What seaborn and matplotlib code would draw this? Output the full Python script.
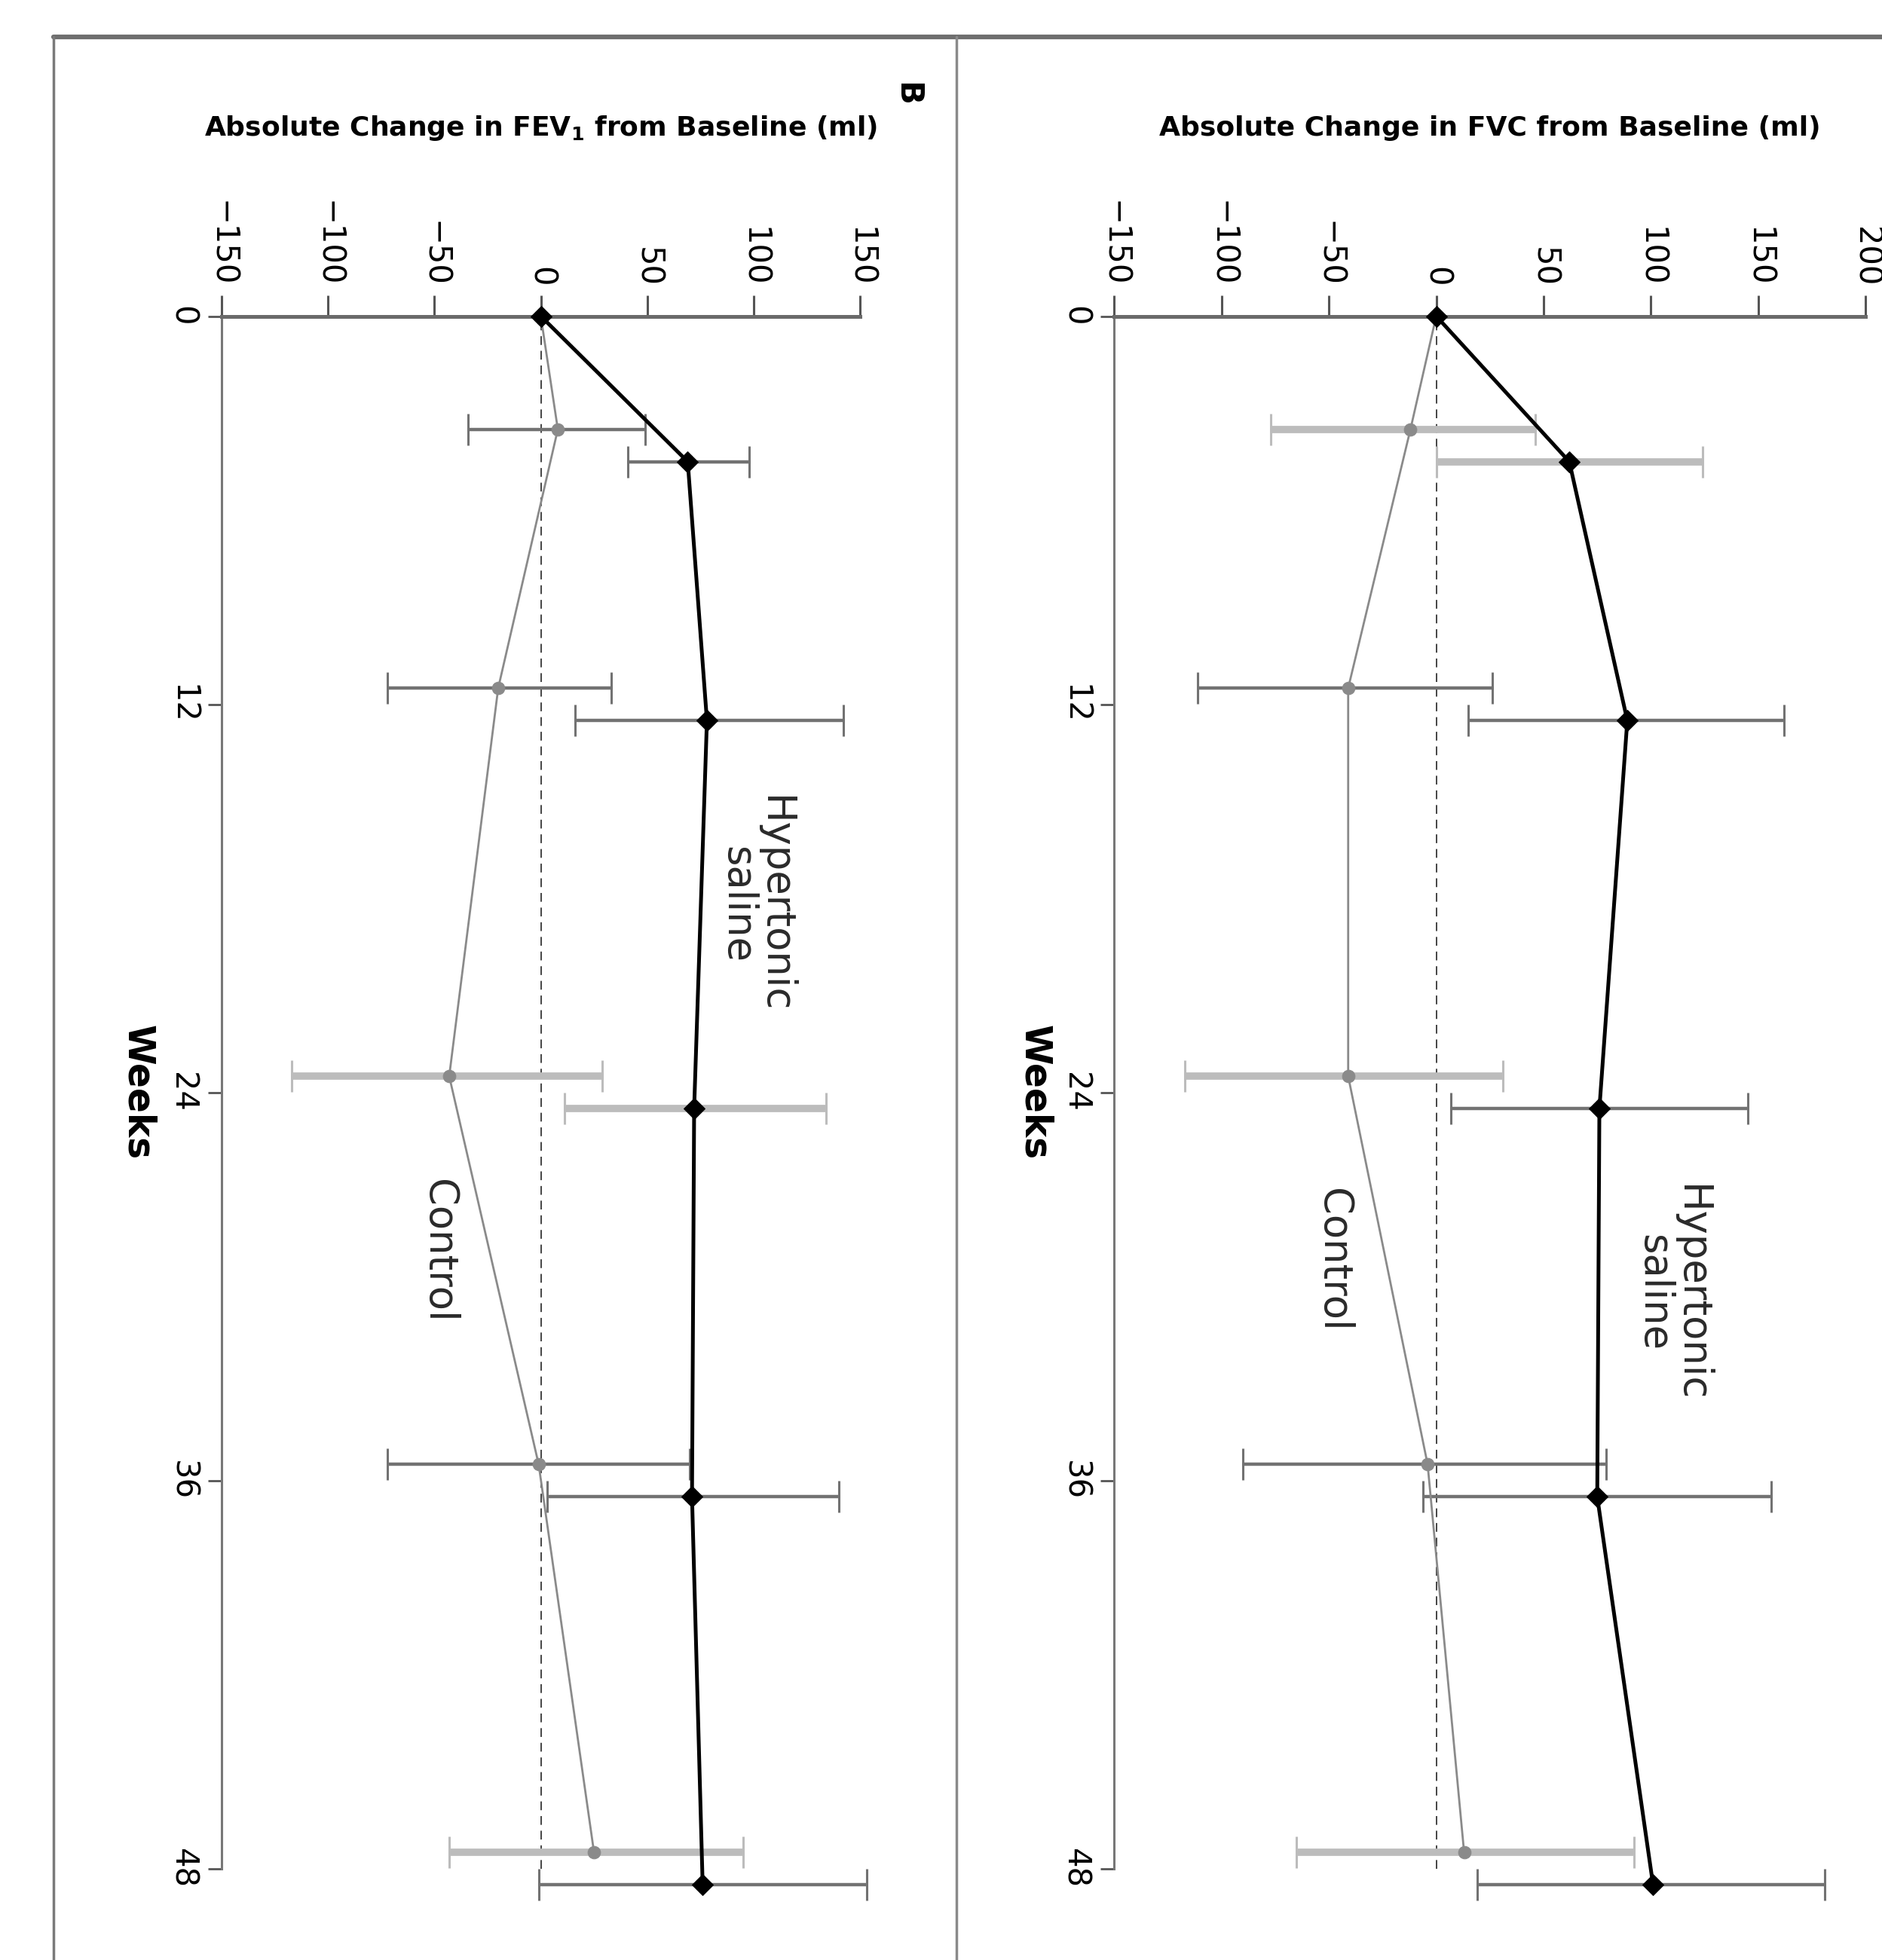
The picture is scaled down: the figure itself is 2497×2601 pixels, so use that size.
import matplotlib
matplotlib.use('Agg')
import matplotlib.pyplot as plt
import seaborn as sns
from matplotlib import font_manager
from matplotlib.lines import Line2D

# ---------- data (rotated 90 deg clockwise) ----------
weeks = [0, 4, 12, 24, 36, 48]

# panel B: FEV1
fev1_hs = [0, 69, 78, 72, 71, 76]
fev1_hs_lo = [41, 16, 11, 3, -1]
fev1_hs_hi = [98, 142, 134, 140, 153]
fev1_ctl = [0, 8, -20, -43, -1, 25]
fev1_ctl_lo = [-34, -72, -117, -72, -43]
fev1_ctl_hi = [49, 33, 29, 70, 95]

# panel A: FVC
fvc_hs = [0, 62, 89, 76, 75, 101]
fvc_hs_lo = [0, 15, 7, -6, 19]
fvc_hs_hi = [124, 162, 145, 156, 181]
fvc_ctl = [0, -12, -41, -41, -4, 13]
fvc_ctl_lo = [-77, -111, -117, -90, -65]
fvc_ctl_hi = [46, 26, 31, 79, 92]

fev1_ticks = [-150, -100, -50, 0, 50, 100, 150]
fvc_ticks = [-150, -100, -50, 0, 50, 100, 150, 200]
week_ticks = [0, 12, 24, 36, 48]

# error bar look per point: d = dark thin, l = light thick
fev1_hs_err = ['d', 'd', 'l', 'd', 'd']
fev1_ctl_err = ['d', 'd', 'l', 'd', 'l']
fvc_hs_err = ['l', 'd', 'd', 'd', 'd']
fvc_ctl_err = ['l', 'd', 'l', 'd', 'l']

sns.set_style('white')
plt.rcParams['font.family'] = ['DejaVu Sans']
plt.rcParams['text.color'] = 'black'

names = {f.name for f in font_manager.fontManager.ttflist}
if 'Liberation Sans Narrow' in names:
    title_font, title_size = ['Liberation Sans Narrow', 'DejaVu Sans'], 36
else:
    title_font, title_size = ['DejaVu Sans'], 26

err_style = {
    'd': dict(ecolor='#727272', elinewidth=3.2, capthick=2.2),
    'l': dict(ecolor='#bcbcbc', elinewidth=7, capthick=2.2),
}


def draw_panel(ax, hs, hs_lo, hs_hi, hs_err, ctl, ctl_lo, ctl_hi, ctl_err,
               ticks, label, hs_note, ctl_note, weeks_x):
    ctl_pos = [w - 0.5 if w > 0 else w for w in weeks]
    hs_pos = [w + 0.5 if w > 0 else w for w in weeks]

    ax.axvline(0, color='#444444', lw=1.4, ls=(0, (6, 4)), zorder=1)

    for pos, m, lo, hi, kind in zip(ctl_pos[1:], ctl[1:], ctl_lo, ctl_hi, ctl_err):
        ax.errorbar(m, pos, xerr=[[m - lo], [hi - m]], fmt='none', capsize=15,
                    zorder=2, **err_style[kind])
    for pos, m, lo, hi, kind in zip(hs_pos[1:], hs[1:], hs_lo, hs_hi, hs_err):
        ax.errorbar(m, pos, xerr=[[m - lo], [hi - m]], fmt='none', capsize=15,
                    zorder=2, **err_style[kind])

    sns.lineplot(x=ctl, y=ctl_pos, orient='y', estimator=None, ax=ax,
                 color='#8a8a8a', lw=2.0, marker='o', markersize=12,
                 markeredgecolor='#8a8a8a', zorder=3)
    sns.lineplot(x=hs, y=hs_pos, orient='y', estimator=None, ax=ax,
                 color='black', lw=3.6, marker='D', markersize=14,
                 markeredgecolor='black', zorder=4)

    for art in ax.lines + ax.collections:
        art.set_clip_on(False)

    ax.set_xlim(ticks[0], ticks[-1])
    ax.set_ylim(48, 0)
    ax.set_xticks(ticks)
    ax.set_yticks(week_ticks)
    ax.grid(False)

    for side in ['right', 'bottom']:
        ax.spines[side].set_visible(False)
    ax.spines['top'].set_linewidth(3.6)
    ax.spines['top'].set_color('#6a6a6a')
    ax.spines['left'].set_linewidth(2.2)
    ax.spines['left'].set_color('#777777')

    ax.xaxis.tick_top()
    ax.tick_params(axis='x', top=True, bottom=False, labeltop=True, labelbottom=False,
                   length=20, width=2.2, color='#555555', labelsize=30,
                   labelrotation=-90, pad=8, labelcolor='black')
    ax.tick_params(axis='y', left=True, length=13, width=2, color='#555555',
                   labelsize=30, labelrotation=-90, pad=9, labelcolor='black')
    for t in ax.get_yticklabels():
        t.set_va('center')

    ax.set_xlabel(label, fontsize=title_size, fontweight='bold', family=title_font,
                  color='black')
    ax.xaxis.set_label_position('top')
    ax.xaxis.set_label_coords(0.5, 1.121)
    ax.xaxis.label.set_va('center')

    ax.set_ylabel('Weeks', rotation=-90, fontsize=35, fontweight='bold', color='black')
    ax.yaxis.set_label_coords(weeks_x, 0.5)
    ax.yaxis.label.set_va('center')
    ax.yaxis.label.set_ha('center')

    ax.text(hs_note[0], hs_note[1], 'Hypertonic\nsaline', rotation=-90, ha='center',
            va='center', multialignment='center', fontsize=38, color='#2a2a2a',
            linespacing=0.95)
    ax.text(ctl_note[0], ctl_note[1], 'Control', rotation=-90, ha='center',
            va='center', fontsize=38, color='#2a2a2a')


fig = plt.figure(figsize=(24.97, 26.01), dpi=100)
ax_b = fig.add_axes([0.1176, 0.0466, 0.3395, 0.7921])
ax_a = fig.add_axes([0.592, 0.0466, 0.3993, 0.7921])

draw_panel(ax_b, fev1_hs, fev1_hs_lo, fev1_hs_hi, fev1_hs_err,
           fev1_ctl, fev1_ctl_lo, fev1_ctl_hi, fev1_ctl_err,
           fev1_ticks, r'Absolute Change in FEV$_\mathbf{1}$ from Baseline (ml)',
           (101, 18.2), (-48, 28.9), -0.131)
draw_panel(ax_a, fvc_hs, fvc_hs_lo, fvc_hs_hi, fvc_hs_err,
           fvc_ctl, fvc_ctl_lo, fvc_ctl_hi, fvc_ctl_err,
           fvc_ticks, 'Absolute Change in FVC from Baseline (ml)',
           (110, 30.2), (-48, 29.2), -0.105)

# panel frame lines
fig.add_artist(Line2D([0.0286, 1.0], [0.981, 0.981], transform=fig.transFigure,
                      color='#6e6e6e', lw=4.5))
fig.add_artist(Line2D([0.0286, 0.0286], [0.0, 0.981], transform=fig.transFigure,
                      color='#7a7a7a', lw=2.5))
fig.add_artist(Line2D([0.5083, 0.5083], [0.0, 0.981], transform=fig.transFigure,
                      color='#8a8a8a', lw=2.5))

fig.text(0.4817, 0.952, 'B', rotation=-90, fontsize=30, fontweight='bold',
         ha='center', va='center', color='black')

fig.savefig('out.png', dpi=100)
